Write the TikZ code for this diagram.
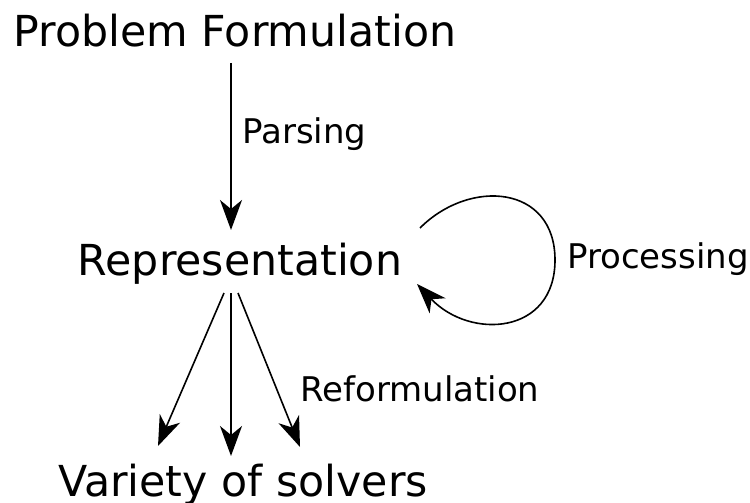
\documentclass[tikz,border=0pt]{standalone}
\usepackage{fontspec}
\setmainfont{DejaVu Sans}
\usetikzlibrary{arrows.meta}
\begin{document}
\begin{tikzpicture}[x=1pt,y=-1pt,
  big/.style={inner sep=0pt, anchor=base, font=\fontsize{42.7}{48}\selectfont},
  lbl/.style={inner sep=0pt, anchor=west, font=\fontsize{34}{40}\selectfont},
  flow/.style={line width=1.6pt, -{Stealth[length=30pt,width=22pt,inset=9pt]}}]
\useasboundingbox (0,0) rectangle (750,503);
\node[big] (pf) at (235,47) {Problem Formulation};
\node[big] (rep) at (240,275) {Representation};
\node[big] (vs) at (243,496) {Variety of solvers};
\node[lbl] (parsing) at (242,134) {Parsing};
\node[lbl] (proc) at (567,259) {Processing};
\node[lbl] (reform) at (300,389) {Reformulation};

\coordinate (p0) at (231,63);
\coordinate (p1) at (231,230);
\coordinate (sA) at (224,293);
\coordinate (sB) at (231,293);
\coordinate (sC) at (238,293);
\coordinate (eA) at (158,446);
\coordinate (eB) at (231,456);
\coordinate (eC) at (300,447);
\coordinate (l0) at (420,228);
\coordinate (l1) at (555,260);
\coordinate (l2) at (417,284);

\draw[flow] (p0) -- (p1);
\draw[flow] (sA) -- (eA);
\draw[flow] (sB) -- (eB);
\draw[flow] (sC) -- (eC);
\draw[flow] (l0) .. controls (470,178) and (555,185) .. (l1)
  .. controls (555,335) and (470,340) .. (l2);
\end{tikzpicture}
\end{document}
